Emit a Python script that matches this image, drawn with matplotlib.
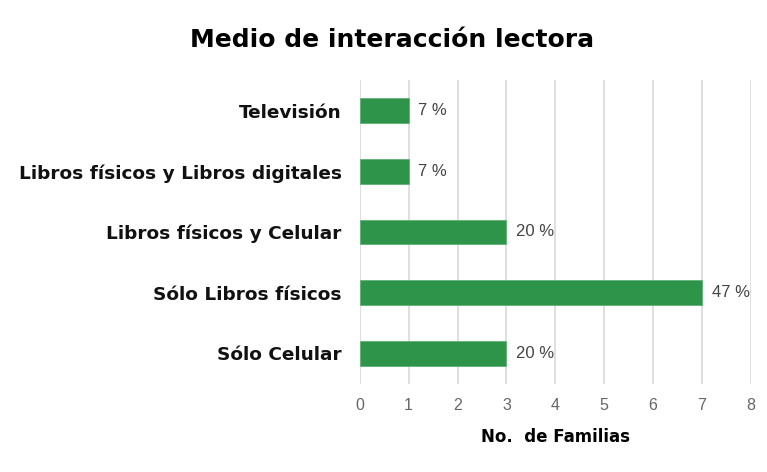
import matplotlib
matplotlib.use("Agg")
import matplotlib.pyplot as plt

plt.rcParams['font.family'] = ['DejaVu Sans']

categorias = ["Televisión", "Libros físicos y Libros digitales", "Libros físicos y Celular",
              "Sólo Libros físicos", "Sólo Celular"]
familias = [1, 1, 3, 7, 3]
porcentajes = ["7%", "7%", "20%", "47%", "20%"]
ticks_x = [0, 1, 2, 3, 4, 5, 6, 7, 8]

fig = plt.figure(figsize=(7.67, 4.72), dpi=100)
ax = fig.add_axes([0.469, 0.187, 0.510, 0.643])

y = list(range(len(categorias)))
ax.barh(y, familias, height=0.41, color="#2e944a", edgecolor="#5fb275", linewidth=0.6, zorder=3)
for yi, v, p in zip(y, familias, porcentajes):
    ax.text(v + 0.2, yi, p.replace("%", " %"), va="center", ha="left", fontsize=12,
            color="#444444", family="Liberation Sans")

ax.set_ylim(len(categorias) - 0.5, -0.5)
ax.set_xlim(0, 8)
ax.set_xticks(ticks_x)
ax.set_yticks(y)
ax.set_yticklabels(categorias, fontsize=13.3, fontweight="bold", color="#111111")
ax.tick_params(axis="y", length=0, pad=13)
ax.tick_params(axis="x", length=0, pad=10, labelsize=11.5, labelcolor="#666666")
for lbl in ax.get_xticklabels():
    lbl.set_family("Liberation Sans")
ax.grid(axis="x", color="#d9d9d9", linewidth=1.2, zorder=0)
for s in ax.spines.values():
    s.set_visible(False)

ax.set_xlabel("No.  de Familias", fontsize=12, fontweight="bold", labelpad=11)
fig.text(0.511, 0.915, "Medio de interacción lectora", ha="center", va="center",
         fontsize=18, fontweight="bold")

fig.savefig("out.png", dpi=100)
